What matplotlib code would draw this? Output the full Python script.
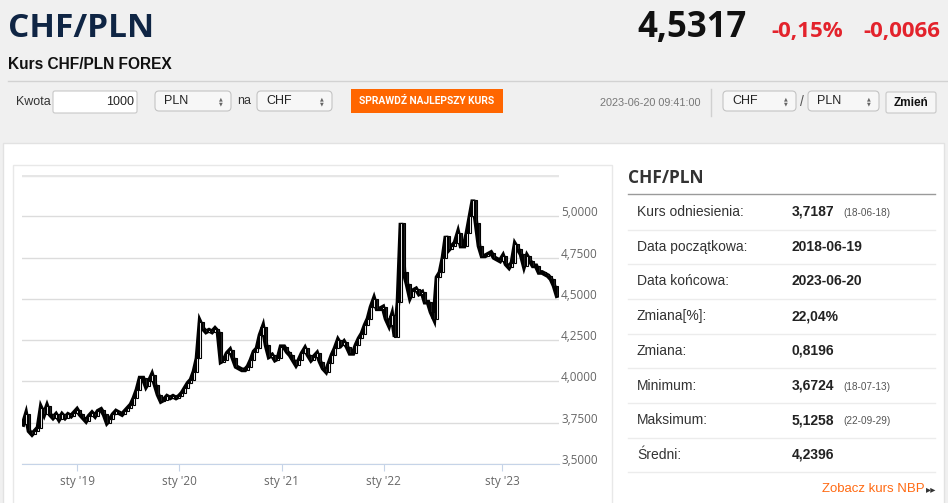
import numpy as np
import matplotlib.pyplot as plt
from matplotlib.patches import Rectangle, FancyBboxPatch

# CHF/PLN closes, one every ~3 px of the original chart (2018-06-19 .. 2023-06-20)
closes = [3.74, 3.80, 3.70, 3.68, 3.70, 3.72, 3.84, 3.80, 3.85, 3.80,
          3.78, 3.80, 3.77, 3.80, 3.78, 3.80, 3.79, 3.81, 3.83, 3.80,
          3.78, 3.76, 3.79, 3.81, 3.79, 3.82, 3.83, 3.80, 3.75, 3.77,
          3.80, 3.82, 3.81, 3.80, 3.82, 3.84, 3.86, 3.90, 3.95, 4.02,
          4.02, 3.97, 4.00, 4.04, 3.98, 3.92, 3.88, 3.89, 3.91, 3.90,
          3.91, 3.90, 3.91, 3.93, 3.96, 3.99, 4.01, 4.06, 4.14, 4.36,
          4.32, 4.30, 4.31, 4.30, 4.32, 4.30, 4.12, 4.13, 4.17, 4.19,
          4.14, 4.09, 4.08, 4.07, 4.07, 4.09, 4.13, 4.18, 4.20, 4.28,
          4.33, 4.22, 4.15, 4.16, 4.13, 4.14, 4.21, 4.21, 4.18, 4.16,
          4.13, 4.10, 4.13, 4.17, 4.20, 4.16, 4.13, 4.15, 4.17, 4.12,
          4.08, 4.06, 4.11, 4.16, 4.20, 4.25, 4.22, 4.24, 4.21, 4.17,
          4.17, 4.22, 4.26, 4.29, 4.34, 4.38, 4.45, 4.50, 4.44, 4.44,
          4.45, 4.38, 4.34, 4.40, 4.27, 4.48, 4.96, 4.66, 4.59, 4.51,
          4.55, 4.56, 4.53, 4.54, 4.48, 4.48, 4.42, 4.38, 4.63, 4.66,
          4.75, 4.88, 4.80, 4.82, 4.84, 4.90, 4.82, 4.82, 4.90, 5.00,
          5.10, 4.96, 4.82, 4.76, 4.76, 4.77, 4.78, 4.75, 4.74, 4.73,
          4.76, 4.71, 4.69, 4.72, 4.83, 4.80, 4.77, 4.70, 4.76, 4.73,
          4.70, 4.70, 4.66, 4.66, 4.65, 4.64, 4.62, 4.58, 4.52]
tick_pos = [18, 52, 86.3, 120.3, 159.7]
tick_labels = ["sty '19", "sty '20", "sty '21", "sty '22", "sty '23"]
y_ticks = [3.5, 3.75, 4.0, 4.25, 4.5, 4.75, 5.0]

stat_labels = ["Kurs odniesienia:", "Data początkowa:", "Data końcowa:", "Zmiana[%]:",
               "Zmiana:", "Minimum:", "Maksimum:", "Średni:"]
stat_values = ["3,7187", "2018-06-19", "2023-06-20", "22,04%", "0,8196", "3,6724", "5,1258", "4,2396"]
stat_dates = ["(18-06-18)", "", "", "", "", "(18-07-13)", "(22-09-29)", ""]

W, H = 948, 503
fig = plt.figure(figsize=(W / 100, H / 100), dpi=100)
fig.patch.set_facecolor('#f0f0f0')

bg = fig.add_axes([0, 0, 1, 1])
bg.set_xlim(0, W)
bg.set_ylim(H, 0)
bg.axis('off')

SANS = 'Liberation Sans'
HEAD = 'Open Sans'

# header
bg.text(8, 28, "CHF/PLN", fontsize=24, fontweight='bold', family=HEAD, color='#0f2544', va='center')
bg.text(8, 64, "Kurs CHF/PLN FOREX", fontsize=11.2, fontweight='bold', family=SANS, color='#111', va='center')
bg.text(747, 28, "4,5317", fontsize=25, fontweight='bold', family=HEAD, color='#111', va='center', ha='right')
bg.text(843, 31, "-0,15%", fontsize=16, fontweight='bold', family=HEAD, color='#e3232c', va='center', ha='right')
bg.text(940, 31, "-0,0066", fontsize=16, fontweight='bold', family=HEAD, color='#e3232c', va='center', ha='right')
bg.plot([8, 948], [81, 81], color='#d2d2d2', lw=1)

# form row
bg.text(16, 102, "Kwota", fontsize=9, family=SANS, color='#333', va='center')
bg.add_patch(FancyBboxPatch((53, 91), 84, 22, boxstyle="round,pad=0,rounding_size=2",
                            fc='white', ec='#c8c8c8', lw=0.8))
bg.text(134, 102, "1000", fontsize=9, family=SANS, color='#222', va='center', ha='right')


def select(x0, x1, label):
    bg.add_patch(FancyBboxPatch((x0, 91), x1 - x0, 20, boxstyle="round,pad=0,rounding_size=4",
                                fc='#f7f7f7', ec='#c4c4c4', lw=0.8))
    bg.text(x0 + 9, 101, label, fontsize=9, family=SANS, color='#222', va='center')
    bg.text(x1 - 10, 98.5, "▲", fontsize=3.5, color='#666', ha='center', va='center')
    bg.text(x1 - 10, 103.5, "▼", fontsize=3.5, color='#666', ha='center', va='center')


select(155, 231, "PLN")
bg.text(237, 101, "na", fontsize=9, family=SANS, color='#333', va='center')
select(257, 332, "CHF")
bg.add_patch(Rectangle((351, 89), 152, 24, fc='#ff6600', ec='none'))
bg.text(427, 101, "SPRAWDŹ NAJLEPSZY KURS", fontsize=7.4, fontweight='bold', family='Roboto',
        color='white', va='center', ha='center')
bg.text(650, 103, "2023-06-20 09:41:00", fontsize=7.8, family=SANS, color='#777', va='center', ha='center')
bg.plot([711, 711], [89, 116], color='#d0d0d0', lw=1)
select(723, 796, "CHF")
bg.text(802, 102, "/", fontsize=10, family=SANS, color='#555', va='center', ha='center')
select(808, 879, "PLN")
bg.add_patch(FancyBboxPatch((886, 92), 50, 21, boxstyle="round,pad=0,rounding_size=2",
                            fc='#f6f6f6', ec='#c8c8c8', lw=0.8))
bg.text(911, 103, "Zmień", fontsize=8.5, fontweight='bold', family=SANS, color='#111', va='center', ha='center')

# white content panel and chart box
bg.add_patch(Rectangle((3, 143), 941, 365, fc='white', ec='#e2e2e2', lw=1))
bg.add_patch(Rectangle((13, 165), 599, 345, fc='white', ec='#e8e8e8', lw=1))

# right stats panel
bg.text(628, 178, "CHF/PLN", fontsize=12.5, fontweight='bold', family=HEAD, color='#333', va='center')
bg.plot([628, 935], [194, 194], color='#9a9a9a', lw=1)
for i, (lab, val, dt) in enumerate(zip(stat_labels, stat_values, stat_dates)):
    yc = 212 + i * 34.7
    bg.text(637, yc, lab, fontsize=10, family=SANS, color='#333', va='center')
    bg.text(792, yc, val, fontsize=10, fontweight='bold', family=SANS, color='#222', va='center')
    if dt:
        bg.text(843, yc + 1, dt, fontsize=7.2, family=SANS, color='#555', va='center')
    bg.plot([628, 935], [yc + 17.5, yc + 17.5], color='#ececec', lw=1)
bg.text(925, 489, "Zobacz kurs NBP", fontsize=9.5, family=SANS, color='#ff6a13', va='center', ha='right')
bg.text(936, 489, "▸▸", fontsize=7.5, family='DejaVu Sans', color='#333', va='center', ha='right')

# chart
n = len(closes)
ax = fig.add_axes([21.5 / W, (H - 464) / H, 537 / W, (464 - 175) / H])
ax.set_facecolor('none')
c = np.array(closes)
o = np.concatenate([[c[0]], c[:-1]])
idx = np.arange(n)
up = c >= o
ax.plot(idx, c, color='black', lw=3.4, zorder=2, solid_joinstyle='miter')
ax.bar(idx[~up], (o - c)[~up], bottom=c[~up], width=0.9, color='#222', ec='black', lw=0.8, zorder=3)
ax.bar(idx[up], (c - o)[up], bottom=o[up], width=0.9, color='white', ec='black', lw=0.8, zorder=3)

ax.set_xlim(-0.5, n - 0.5)
ax.set_ylim(3.5, 5.25)
ax.set_yticks(y_ticks + [5.25])
ax.yaxis.grid(True, color='#dcdcdc', lw=1)
ax.set_axisbelow(True)
ax.tick_params(axis='y', length=0, labelleft=False, labelright=False)
for v in y_ticks:
    ax.text(1.005, v, f"{v:.4f}".replace('.', ','), transform=ax.get_yaxis_transform(),
            fontsize=8.5, family='Open Sans', color='#666', va='baseline', ha='left')
ax.axhline(5.25, color='#e6e6e6', lw=2.5, zorder=1)
ax.set_xticks(tick_pos)
ax.set_xticklabels(tick_labels, fontsize=8.5, family='Open Sans', color='#666')
ax.tick_params(axis='x', length=5, color='#c6d4e8', pad=3)
for s in ['top', 'right', 'left']:
    ax.spines[s].set_visible(False)
ax.spines['bottom'].set_color('#c6d4e8')

fig.savefig("out.png", dpi=100)
